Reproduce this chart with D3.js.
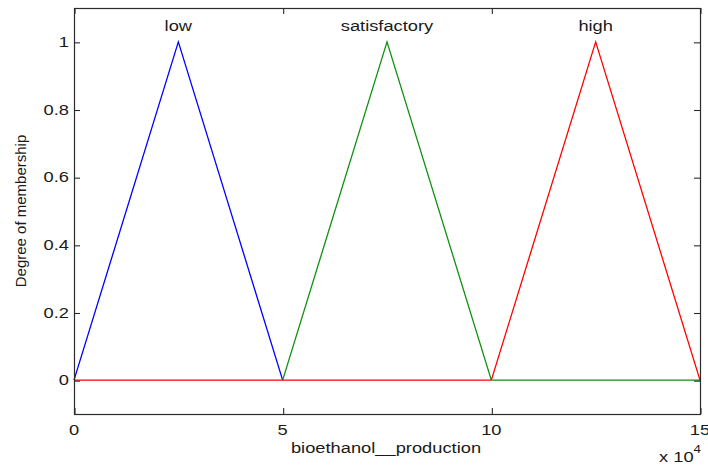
<!DOCTYPE html>
<html><head><meta charset="utf-8">
<script src="https://cdn.jsdelivr.net/npm/d3@7"></script>
<style>html,body{margin:0;padding:0;background:#fff;}svg{display:block;}text{font-family:"Liberation Sans",Arial,sans-serif;fill:#1a1a1a;}</style>
</head><body>
<script>
const mfNames = ["low", "satisfactory", "high"];
const mfParams = [[0, 25000, 50000], [50000, 75000, 100000], [100000, 125000, 150000]];
const mfColors = ["#0000ff", "#109010", "#ff0000"];
const xTicks = [0, 50000, 100000, 150000];
const xTickLabels = ["0", "5", "10", "15"];
const yTicks = [0, 0.2, 0.4, 0.6, 0.8, 1];
const yTickLabels = ["0", "0.2", "0.4", "0.6", "0.8", "1"];
const xRange = [0, 150000];
const yRange = [-0.1, 1.1];

const W = 708, H = 465;
const L = 74, R = 700, T = 8, B = 414;
const SX = 1.22;
const svg = d3.select("body").append("svg").attr("width", W).attr("height", H);
const x = d3.scaleLinear().domain(xRange).range([L, R]);
const y = d3.scaleLinear().domain(yRange).range([B, T]);
const axisColor = "#2b2b2b";

function stext(g, tx, ty, str, anchor) {
  return g.append("text").attr("transform", `translate(${tx},${ty}) scale(${SX},1)`)
    .attr("text-anchor", anchor || "middle").attr("font-size", 15).text(str);
}

// visible zero-level segments (later curves are painted over earlier ones)
function flats(p) { return [[xRange[0], p[0]], [p[2], xRange[1]]].filter(s => s[1] > s[0]); }
function subtract(segs, cut) {
  let out = [];
  segs.forEach(s => {
    let parts = [s];
    cut.forEach(c => {
      const np = [];
      parts.forEach(q => {
        if (c[1] <= q[0] || c[0] >= q[1]) { np.push(q); return; }
        if (c[0] > q[0]) np.push([q[0], c[0]]);
        if (c[1] < q[1]) np.push([c[1], q[1]]);
      });
      parts = np;
    });
    out = out.concat(parts);
  });
  return out;
}

const line = d3.line().x(d => x(d[0])).y(d => y(d[1]));
mfParams.forEach((p, i) => {
  let later = [];
  mfParams.slice(i + 1).forEach(q => { later = later.concat(flats(q)); });
  subtract(flats(p), later).forEach(s => {
    svg.append("line").attr("x1", x(s[0])).attr("x2", x(s[1]))
      .attr("y1", y(0)).attr("y2", y(0))
      .attr("stroke", mfColors[i]).attr("stroke-width", 1.4);
  });
  const tri = [[p[0], 0], [p[1], 1], [p[2], 0]];
  svg.append("path").attr("d", line(tri)).attr("fill", "none")
    .attr("stroke", mfColors[i]).attr("stroke-width", 1.3);
});

// axes box
svg.append("rect").attr("x", L + 0.5).attr("y", T + 0.5).attr("width", R - L).attr("height", B - T)
  .attr("fill", "none").attr("stroke", axisColor).attr("stroke-width", 1.2);

const tl = 6;
const axB = svg.append("g").attr("transform", `translate(0.5,${B})`)
  .call(d3.axisBottom(x).tickValues(xTicks).tickSizeInner(-tl).tickSizeOuter(0).tickFormat(""));
const axT = svg.append("g").attr("transform", `translate(0.5,${T})`)
  .call(d3.axisTop(x).tickValues(xTicks).tickSizeInner(-tl).tickSizeOuter(0).tickFormat(""));
const axL = svg.append("g").attr("transform", `translate(${L},0.5)`)
  .call(d3.axisLeft(y).tickValues(yTicks).tickSizeInner(-tl).tickSizeOuter(0).tickFormat(""));
const axR = svg.append("g").attr("transform", `translate(${R},0.5)`)
  .call(d3.axisRight(y).tickValues(yTicks).tickSizeInner(-tl).tickSizeOuter(0).tickFormat(""));
[axB, axT, axL, axR].forEach(a => {
  a.select(".domain").remove();
  a.selectAll("line").attr("stroke", axisColor).attr("stroke-width", 1.1);
});

// tick labels
xTicks.forEach((v, i) => stext(svg, x(v), 435, xTickLabels[i], "middle"));
yTicks.forEach((v, i) => stext(svg, 69, y(v) + 5, yTickLabels[i], "end"));

// mf labels
mfParams.forEach((p, i) => stext(svg, x(p[1]), 31, mfNames[i], "middle"));

// axis labels
stext(svg, 386, 453, "bioethanol__production", "middle");
svg.append("text").attr("transform", `translate(26,${(T + B) / 2}) rotate(-90)`)
  .attr("text-anchor", "middle").attr("font-size", 15).text("Degree of membership");

// exponent
const ex = svg.append("text").attr("transform", `translate(659,462) scale(${SX},1)`).attr("font-size", 15);
ex.append("tspan").text("x 10");
ex.append("tspan").attr("dy", -9).attr("font-size", 11).text("4");
</script>
</body></html>
